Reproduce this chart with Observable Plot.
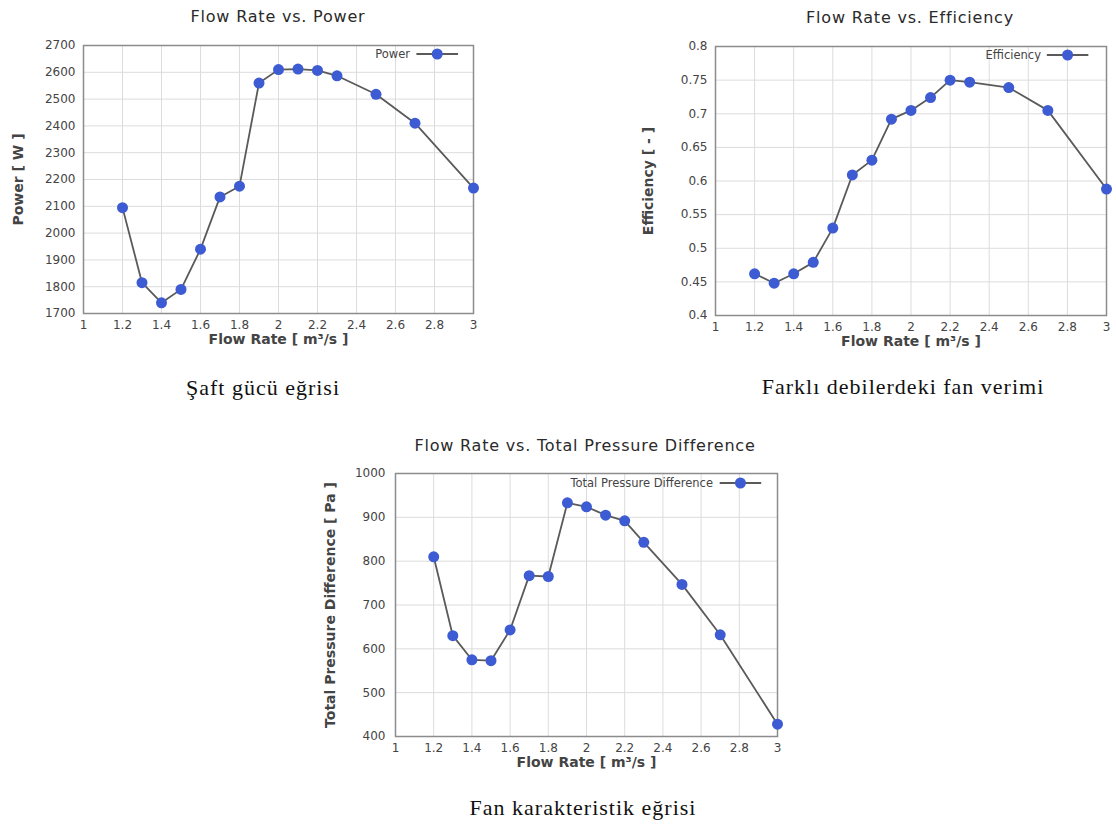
<!DOCTYPE html>
<html>
<head>
<meta charset="utf-8">
<script src="https://cdn.jsdelivr.net/npm/d3@7"></script>
<script src="https://cdn.jsdelivr.net/npm/@observablehq/plot@0.6"></script>
<style>
  html, body { margin: 0; padding: 0; background: #fff; }
  #root { position: relative; width: 1116px; height: 828px; overflow: hidden; background: #fff; }
  .abs { position: absolute; }
  .title { font-family: "DejaVu Sans", sans-serif; font-size: 16px; color: #2a2a2a; letter-spacing: 0.8px; white-space: nowrap; transform: translate(-50%, -50%); }
  .caption { font-family: "Liberation Serif", serif; font-size: 22px; color: #111; letter-spacing: 1px; white-space: nowrap; transform: translate(-50%, -50%); }
  .legend { font-family: "DejaVu Sans", sans-serif; font-size: 11.5px; color: #444; white-space: nowrap; display: flex; align-items: center; transform: translate(-100%, -50%); }
  .legend svg { margin-left: 6px; }
</style>
</head>
<body>
<div id="root"></div>
<script>
// ---- data ----
const flowRate = [1.2, 1.3, 1.4, 1.5, 1.6, 1.7, 1.8, 1.9, 2.0, 2.1, 2.2, 2.3, 2.5, 2.7, 3.0];
const power = [2095, 1815, 1740, 1790, 1940, 2135, 2175, 2560, 2610, 2612, 2607, 2587, 2518, 2410, 2168];
const efficiency = [0.462, 0.448, 0.462, 0.479, 0.530, 0.609, 0.631, 0.692, 0.705, 0.724, 0.750, 0.747, 0.739, 0.705, 0.588];
const pressure = [810, 630, 575, 573, 643, 767, 765, 933, 924, 905, 892, 843, 747, 632, 428];

const xTicks = [1, 1.2, 1.4, 1.6, 1.8, 2, 2.2, 2.4, 2.6, 2.8, 3];
const powerTicks = [1700, 1800, 1900, 2000, 2100, 2200, 2300, 2400, 2500, 2600, 2700];
const effTicks = [0.4, 0.45, 0.5, 0.55, 0.6, 0.65, 0.7, 0.75, 0.8];
const pressureTicks = [400, 500, 600, 700, 800, 900, 1000];

const titles = ["Flow Rate vs. Power", "Flow Rate  vs. Efficiency", "Flow Rate vs. Total Pressure Difference"];
const captions = ["Şaft gücü eğrisi", "Farklı debilerdeki fan verimi", "Fan karakteristik eğrisi"];
const yLabels = ["Power [ W ]", "Efficiency [ - ]", "Total Pressure Difference [ Pa ]"];
const legendNames = ["Power", "Efficiency", "Total Pressure Difference"];
const xLabel = "Flow Rate [ m³/s ]";

const root = document.getElementById("root");
const fmt = d3.format("~g");
const LINE = "#5a5a5a";
const DOT = "#3d5bd2";

function makeChart(cfg) {
  const data = flowRate.map((x, i) => ({x, y: cfg.values[i]}));
  const plot = Plot.plot({
    width: cfg.width,
    height: cfg.height,
    marginLeft: cfg.ml,
    marginRight: cfg.mr,
    marginTop: cfg.mt,
    marginBottom: cfg.mb,
    style: {fontFamily: "DejaVu Sans, sans-serif", background: "transparent", overflow: "visible"},
    x: {domain: [1, 3]},
    y: {domain: cfg.yDomain},
    marks: [
      Plot.gridX(xTicks, {stroke: "#dcdcdc", strokeOpacity: 1}),
      Plot.gridY(cfg.yTicks, {stroke: "#dcdcdc", strokeOpacity: 1}),
      Plot.frame({stroke: "#8c8c8c", strokeWidth: 1.5}),
      Plot.axisX(xTicks, {tickSize: 0, tickPadding: 7, tickFormat: fmt, fontSize: 12, color: "#444", label: null}),
      Plot.axisY(cfg.yTicks, {tickSize: 0, tickPadding: cfg.ypad, tickFormat: fmt, fontSize: 12, color: "#444", label: null}),
      Plot.line(data, {x: "x", y: "y", stroke: LINE, strokeWidth: 1.8}),
      Plot.dot(data, {x: "x", y: "y", r: 5.5, fill: DOT}),
      Plot.text([xLabel], {frameAnchor: "bottom", dy: 30, fontSize: 14, fontWeight: "bold", fill: "#444"}),
      Plot.text([cfg.yLabel], {frameAnchor: "left", textAnchor: "middle", dx: cfg.ydx, rotate: -90, fontSize: 14, fontWeight: "bold", fill: "#444"})
    ]
  });
  const wrap = document.createElement("div");
  wrap.className = "abs";
  wrap.style.left = cfg.left + "px";
  wrap.style.top = cfg.top + "px";
  wrap.appendChild(plot);
  root.appendChild(wrap);

  const t = document.createElement("div");
  t.className = "abs title";
  t.textContent = cfg.title;
  t.style.left = cfg.titleX + "px";
  t.style.top = cfg.titleY + "px";
  root.appendChild(t);

  const c = document.createElement("div");
  c.className = "abs caption";
  c.textContent = cfg.caption;
  c.style.left = cfg.capX + "px";
  c.style.top = cfg.capY + "px";
  root.appendChild(c);

  const lg = document.createElement("div");
  lg.className = "abs legend";
  lg.style.left = cfg.legX + "px";
  lg.style.top = cfg.legY + "px";
  const span = document.createElement("span");
  span.textContent = cfg.legend;
  lg.appendChild(span);
  const ns = "http://www.w3.org/2000/svg";
  const s = document.createElementNS(ns, "svg");
  s.setAttribute("width", 42); s.setAttribute("height", 14);
  const ln = document.createElementNS(ns, "line");
  ln.setAttribute("x1", 0); ln.setAttribute("x2", 42); ln.setAttribute("y1", 7); ln.setAttribute("y2", 7);
  ln.setAttribute("stroke", LINE); ln.setAttribute("stroke-width", 1.8);
  const ci = document.createElementNS(ns, "circle");
  ci.setAttribute("cx", 21); ci.setAttribute("cy", 7); ci.setAttribute("r", 5.5); ci.setAttribute("fill", DOT);
  s.appendChild(ln); s.appendChild(ci);
  lg.appendChild(s);
  root.appendChild(lg);
}

makeChart({
  values: power, yDomain: [1700, 2700], yTicks: powerTicks, yLabel: yLabels[0],
  left: 0, top: 30, width: 493, height: 328, ml: 83, mr: 20, mt: 15, mb: 45, ypad: 8, ydx: -65,
  title: titles[0], titleX: 278, titleY: 16, caption: captions[0], capX: 263, capY: 388,
  legend: legendNames[0], legX: 458, legY: 54
});
makeChart({
  values: efficiency, yDomain: [0.4, 0.8], yTicks: effTicks, yLabel: yLabels[1],
  left: 620, top: 30, width: 496, height: 330, ml: 95, mr: 10, mt: 16, mb: 45, ypad: 8, ydx: -67,
  title: titles[1], titleX: 910, titleY: 17, caption: captions[1], capX: 903, capY: 387,
  legend: legendNames[1], legX: 1089, legY: 55
});
makeChart({
  values: pressure, yDomain: [400, 1000], yTicks: pressureTicks, yLabel: yLabels[2],
  left: 300, top: 455, width: 497, height: 326, ml: 95, mr: 20, mt: 18, mb: 45, ypad: 10, ydx: -65,
  title: titles[2], titleX: 585, titleY: 445, caption: captions[2], capX: 583, capY: 808,
  legend: legendNames[2], legX: 761, legY: 483
});
</script>
</body>
</html>
